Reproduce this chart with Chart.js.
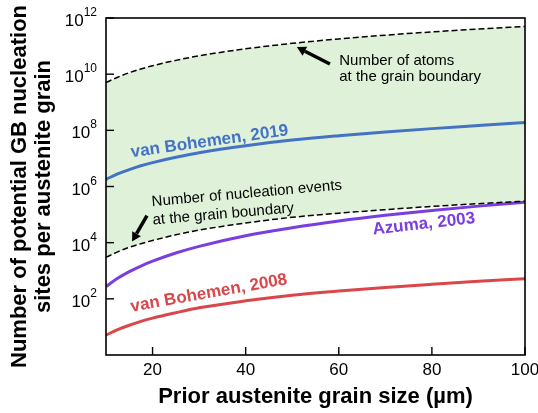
<!DOCTYPE html>
<html><head><meta charset="utf-8">
<script src="https://cdn.jsdelivr.net/npm/chart.js@4.4.1/dist/chart.umd.min.js"></script>
<style>html,body{margin:0;padding:0;background:#fff}#wrap{width:538px;height:413px}</style>
</head><body><div id="wrap"><canvas id="c" width="538" height="413"></canvas></div>
<script>
const grainSize = [10, 12.5, 15, 17.5, 20, 25, 30, 40, 50, 60, 70, 80, 90, 100];
const atomsGB = [5.0e9, 7.8e9, 1.13e10, 1.53e10, 2.0e10, 3.1e10, 4.5e10, 8.0e10, 1.25e11, 1.8e11, 2.45e11, 3.2e11, 4.05e11, 5.0e11];
const nuclEventsGB = [3.0e3, 4.7e3, 6.8e3, 9.2e3, 1.2e4, 1.9e4, 2.8e4, 5.0e4, 8.0e4, 1.12e5, 1.5e5, 1.95e5, 2.45e5, 3.0e5];
const vanBohemen2019 = [1.8e6, 2.8e6, 4.0e6, 5.5e6, 7.1e6, 1.1e7, 1.6e7, 2.85e7, 4.5e7, 6.4e7, 8.7e7, 1.15e8, 1.48e8, 1.9e8];
const azuma2003 = [275, 537, 930, 1474, 2.2e3, 4.3e3, 7.4e3, 1.76e4, 3.4e4, 5.9e4, 9.4e4, 1.4e5, 2.0e5, 2.75e5];
const vanBohemen2008 = [5.1, 8.0, 11.5, 15.7, 20.5, 32, 48, 85, 135, 190, 255, 330, 420, 520];
const xTicks = [20, 40, 60, 80, 100];
const yTickExps = [2, 4, 6, 8, 10, 12];

const pts = arr => grainSize.map((x, i) => ({x, y: arr[i]}));
const FONT = "'Liberation Sans', Arial, sans-serif";

const overlay = {
  id: 'overlay',
  afterDraw(chart) {
    const {ctx, chartArea: a, scales: {x, y}} = chart;
    ctx.save();
    ctx.strokeStyle = '#000'; ctx.lineWidth = 1.6;
    ctx.strokeRect(a.left, a.top, a.right - a.left, a.bottom - a.top);
    ctx.lineWidth = 1.4;
    xTicks.forEach(v => { const px = x.getPixelForValue(v); ctx.beginPath(); ctx.moveTo(px, a.bottom); ctx.lineTo(px, a.bottom - 8); ctx.stroke(); });
    yTickExps.forEach(e => { const py = y.getPixelForValue(Math.pow(10, e)); ctx.beginPath(); ctx.moveTo(a.left, py); ctx.lineTo(a.left + 8, py); ctx.stroke(); });
    ctx.fillStyle = '#000';
    ctx.font = '17px ' + FONT; ctx.textAlign = 'center'; ctx.textBaseline = 'middle';
    xTicks.forEach(v => ctx.fillText(String(v), x.getPixelForValue(v), a.bottom + 15));
    ctx.textBaseline = 'alphabetic'; ctx.textAlign = 'left';
    yTickExps.forEach(e => {
      const py = y.getPixelForValue(Math.pow(10, e));
      const exp = String(e);
      ctx.font = '12px ' + FONT; const ew = ctx.measureText(exp).width;
      ctx.font = '17px ' + FONT; const bw = ctx.measureText('10').width;
      const right = a.left - 9;
      ctx.fillText('10', right - ew - bw, py + 8);
      ctx.font = '12px ' + FONT;
      ctx.fillText(exp, right - ew, py - 2);
    });
    const txt = (s, xv, yv, ang, font, color) => {
      ctx.save();
      ctx.translate(x.getPixelForValue(xv), y.getPixelForValue(yv));
      ctx.rotate(ang * Math.PI / 180);
      ctx.font = font; ctx.fillStyle = color; ctx.textAlign = 'left'; ctx.textBaseline = 'alphabetic';
      ctx.fillText(s, 0, 0);
      ctx.restore();
    };
    const arrow = (x1, y1, x2, y2) => {
      const X1 = x.getPixelForValue(x1), Y1 = y.getPixelForValue(y1);
      const X2 = x.getPixelForValue(x2), Y2 = y.getPixelForValue(y2);
      const ang = Math.atan2(Y2 - Y1, X2 - X1);
      const hl = 9, hw = 5;
      const bx = X2 - hl * Math.cos(ang), by = Y2 - hl * Math.sin(ang);
      ctx.strokeStyle = '#000'; ctx.fillStyle = '#000'; ctx.lineWidth = 3.5; ctx.lineCap = 'butt';
      ctx.beginPath(); ctx.moveTo(X1, Y1); ctx.lineTo(bx, by); ctx.stroke();
      ctx.beginPath(); ctx.moveTo(X2, Y2);
      ctx.lineTo(bx + hw * Math.sin(ang), by - hw * Math.cos(ang));
      ctx.lineTo(bx - hw * Math.sin(ang), by + hw * Math.cos(ang));
      ctx.closePath(); ctx.fill();
    };
    const norm = '15px ' + FONT, bold = 'bold 17px ' + FONT;
    txt('Number of atoms', 60.1, 2.1e10, 0, norm, '#000');
    txt('at the grain boundary', 60.1, 5.6e9, 0, norm, '#000');
    arrow(58.1, 2.3e10, 51.0, 9.2e10);
    txt('Number of nucleation events', 19.9, 2.0e5, -5, norm, '#000');
    txt('at the grain boundary', 20.1, 4.4e4, -5, norm, '#000');
    arrow(18.8, 9.2e4, 15.6, 1.1e4);
    txt('van Bohemen, 2019', 15.5, 1.1e7, -8, bold, '#4472c4');
    txt('Azuma, 2003', 67.4, 1.94e4, -6.5, bold, '#7a3ee0');
    txt('van Bohemen, 2008', 15.5, 35, -10, bold, '#d9474a');
    ctx.restore();
  }
};

const line = (arr, color, w, dash) => ({
  data: pts(arr), borderColor: color, borderWidth: w, borderDash: dash || [],
  pointRadius: 0, cubicInterpolationMode: 'monotone', fill: false
});
const upper = line(atomsGB, '#000', 1.5, [6, 3]);
upper.fill = '+1'; upper.backgroundColor = '#dff1d8';

new Chart(document.getElementById('c'), {
  type: 'line',
  data: {
    datasets: [
      upper,
      line(nuclEventsGB, '#000', 1.5, [6, 3]),
      line(vanBohemen2019, '#4472c4', 3),
      line(azuma2003, '#7a3ee0', 3),
      line(vanBohemen2008, '#d9474a', 3)
    ]
  },
  options: {
    responsive: false, animation: false,
    layout: {padding: {top: 18, right: 13, left: 0, bottom: 0}},
    plugins: {legend: {display: false}, tooltip: {enabled: false}, filler: {drawTime: 'beforeDatasetsDraw'}},
    scales: {
      x: {
        type: 'linear', min: 10, max: 100,
        grid: {display: false, drawTicks: false},
        border: {display: false},
        ticks: {display: false},
        title: {display: true, text: 'Prior austenite grain size (µm)', color: '#000', font: {size: 22, weight: 'bold', family: FONT, lineHeight: 1.1}, padding: {top: 0, bottom: 4}},
        afterFit: ax => { ax.height = 58; }
      },
      y: {
        type: 'logarithmic', min: 1, max: 1e12,
        grid: {display: false, drawTicks: false},
        border: {display: false},
        ticks: {display: false},
        title: {display: true, text: ['Number of potential GB nucleation', 'sites per austenite grain'], color: '#000', font: {size: 22, weight: 'bold', family: FONT, lineHeight: 1.1}, padding: {top: 8, bottom: 0}},
        afterFit: ax => { ax.width = 106; }
      }
    }
  },
  plugins: [overlay]
});
</script>
</body></html>
